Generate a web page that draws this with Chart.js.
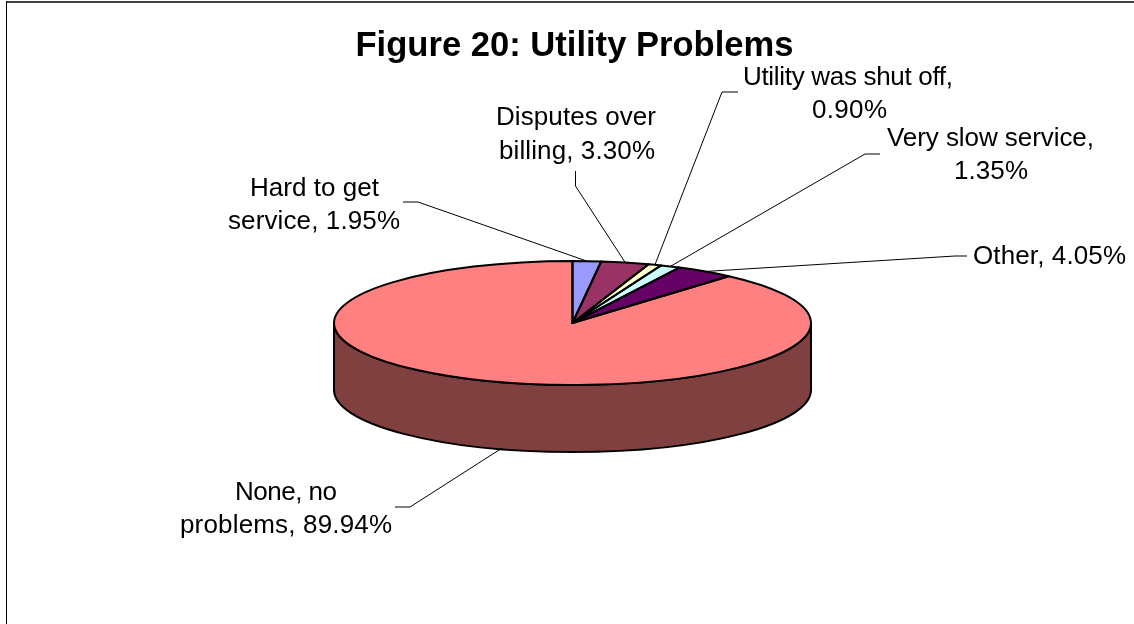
<!DOCTYPE html>
<html>
<head>
<meta charset="utf-8">
<style>html,body{margin:0;padding:0;background:#fff}canvas{display:block}</style>
<script src="https://cdn.jsdelivr.net/npm/chart.js@4/dist/chart.umd.min.js"></script>
</head>
<body>
<canvas id="c" width="1134" height="624"></canvas>
<script>
const titleText = "Figure 20: Utility Problems";
const categories = ["Hard to get service", "Disputes over billing", "Utility was shut off", "Very slow service", "Other", "None, no problems"];
const values = [1.95, 3.30, 0.90, 1.35, 4.05, 89.94];
const topColors = ["#9999FF", "#993366", "#FFFFCC", "#CCFFFF", "#660066", "#FF8080"];
const sideColors = ["#4C4C80", "#4C1933", "#808066", "#668080", "#330033", "#804040"];

// Presentation only: squash factor, depth, and where each callout sits.
const FLATTEN = 62 / 238.5;
const DEPTH = 67;
const FONT = '26px "Liberation Sans", Arial, sans-serif';
const callouts = [
  { firstLine: "Hard to get",           fit: [129,172], cx: [314.5,314],  y: [195.5,229], path: [[418,202],[403,202]] },
  { firstLine: "Disputes over",         fit: [160,156], cx: [576,577],    y: [125,159],   path: [[575.5,186],[575.5,171]] },
  { firstLine: "Utility was shut off,", fit: [210,75],  cx: [848,849.5],  y: [85,118],    path: [[722,92],[738,92]] },
  { firstLine: "Very slow service,",    fit: [207,74],  cx: [990.5,991],  y: [146,179],   path: [[865,154],[880,154]] },
  { firstLine: null,                    fit: [153],     cx: [1049.5],     y: [264],       path: [[955,256],[967,256]] },
  { firstLine: "None, no",              fit: [102,212], cx: [286,286],    y: [500,533],   path: [[410,507],[395,507]], anchorDx: 13 }
];

function ellipsePoint(el, a, dy) {
  return [el.x + Math.cos(a) * el.outerRadius, el.y + Math.sin(a) * el.outerRadius * FLATTEN + (dy || 0)];
}
function squash(ctx, el) {
  ctx.translate(el.x, el.y);
  ctx.scale(1, FLATTEN);
  ctx.translate(-el.x, -el.y);
}

const pie3d = {
  id: 'pie3d',
  afterLayout(chart) {
    chart.titleBlock.left += 2;
    chart.titleBlock.right += 2;
  },
  beforeDraw(chart) {
    const ctx = chart.ctx;
    ctx.save();
    ctx.fillStyle = '#fff';
    ctx.fillRect(0, 0, chart.width, chart.height);
    ctx.fillStyle = '#404040';
    ctx.fillRect(6, 1, chart.width - 6, 2);
    ctx.fillStyle = '#000';
    ctx.fillRect(6, 1, 1, chart.height - 1);
    ctx.restore();
  },
  beforeDatasetsDraw(chart) {
    const ctx = chart.ctx;
    const arcs = chart.getDatasetMeta(0).data;
    arcs.forEach((el, i) => {
      const s = Math.max(el.startAngle, 0), e = Math.min(el.endAngle, Math.PI);
      if (e <= s) return;
      const r = el.outerRadius;
      ctx.save();
      ctx.beginPath();
      ctx.save(); squash(ctx, el);
      ctx.arc(el.x, el.y, r, s, e);
      ctx.restore();
      ctx.save(); ctx.translate(0, DEPTH); squash(ctx, el);
      ctx.arc(el.x, el.y, r, e, s, true);
      ctx.restore();
      ctx.closePath();
      ctx.fillStyle = sideColors[i];
      ctx.fill();
      ctx.lineWidth = 2;
      ctx.lineJoin = 'round';
      ctx.strokeStyle = '#000';
      ctx.stroke();
      ctx.restore();
    });
    ctx.save();
    squash(ctx, arcs[0]);
  },
  afterDatasetsDraw(chart) {
    const ctx = chart.ctx;
    ctx.restore();
    const arcs = chart.getDatasetMeta(0).data;
    arcs.forEach(el => {
      ctx.save();
      ctx.beginPath();
      ctx.save(); squash(ctx, el);
      ctx.moveTo(el.x, el.y);
      ctx.arc(el.x, el.y, el.outerRadius, el.startAngle, el.endAngle);
      ctx.closePath();
      ctx.restore();
      ctx.lineWidth = 2;
      ctx.lineJoin = 'round';
      ctx.strokeStyle = '#000';
      ctx.stroke();
      ctx.restore();
    });
  },
  afterDraw(chart) {
    const ctx = chart.ctx;
    const arcs = chart.getDatasetMeta(0).data;
    ctx.save();
    ctx.font = FONT;
    ctx.fillStyle = '#000';
    ctx.textAlign = 'left';
    ctx.textBaseline = 'alphabetic';
    arcs.forEach((el, i) => {
      const c = callouts[i];
      const mid = (el.startAngle + el.endAngle) / 2;
      const front = Math.sin(mid) > 0;
      const p = ellipsePoint(el, mid, front ? DEPTH : 0);
      ctx.beginPath();
      ctx.moveTo(p[0] + (c.anchorDx || 0), p[1]);
      c.path.forEach(q => ctx.lineTo(q[0], q[1]));
      ctx.lineWidth = 1;
      ctx.strokeStyle = '#000';
      ctx.stroke();
      const full = categories[i] + ", " + values[i].toFixed(2) + "%";
      let lines = [full];
      if (c.firstLine) lines = [c.firstLine, full.slice(c.firstLine.length).trim()];
      lines.forEach((t, k) => {
        ctx.letterSpacing = '0px';
        const natural = ctx.measureText(t).width;
        ctx.letterSpacing = ((c.fit[k] - natural) / (t.length - 1)).toFixed(3) + 'px';
        ctx.fillText(t, c.cx[k] - c.fit[k] / 2, c.y[k]);
      });
    });
    ctx.restore();
  }
};

new Chart(document.getElementById('c'), {
  type: 'pie',
  data: {
    labels: categories,
    datasets: [{ data: values, backgroundColor: topColors, borderWidth: 0, hoverOffset: 0 }]
  },
  options: {
    responsive: false,
    animation: false,
    rotation: 0,
    layout: { padding: { left: 334, right: 323, top: 0, bottom: 62 } },
    plugins: {
      legend: { display: false },
      tooltip: { enabled: true },
      title: {
        display: true,
        text: titleText,
        color: '#000',
        font: { family: '"Liberation Sans", Arial, sans-serif', size: 34.6, weight: 'bold', lineHeight: 1.2 },
        padding: { top: 26, bottom: 16.5 }
      }
    }
  },
  plugins: [pie3d]
});
</script>
</body>
</html>
